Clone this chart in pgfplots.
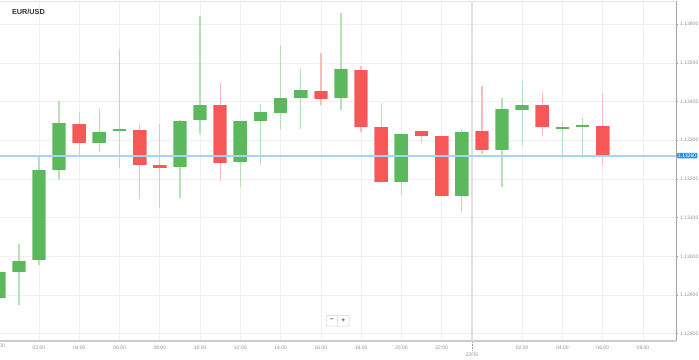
\documentclass[border=0pt]{standalone}
\usepackage{pgfplots}
\pgfplotsset{compat=1.18}
\usepackage{pgfplotstable}
\usepackage{fontspec}
\setmainfont{Liberation Sans}
\definecolor{upbody}{RGB}{92,184,92}
\definecolor{dnbody}{RGB}{246,88,88}
\definecolor{uprim}{RGB}{150,210,150}
\definecolor{dnrim}{RGB}{250,150,150}
\definecolor{upwick}{RGB}{182,224,182}
\definecolor{dnwick}{RGB}{250,188,188}
\definecolor{pricel}{RGB}{166,212,245}
\definecolor{pricebox}{RGB}{33,150,243}
\definecolor{tickgray}{RGB}{145,145,145}

% hourly candles, t = hours since 21/05 00:00
\pgfplotstableread{
t  o       h       l       c
0  1.12892 1.12965 1.12885 1.12959
1  1.12960 1.13033 1.12873 1.12989
2  1.12991 1.13261 1.12977 1.13224
3  1.13222 1.13402 1.13197 1.13344
5  1.13292 1.13383 1.13269 1.13322
6  1.13323 1.13535 1.13227 1.13330
9  1.13231 1.13352 1.13151 1.13350
10 1.13352 1.13622 1.13317 1.13391
12 1.13245 1.13350 1.13178 1.13349
13 1.13349 1.13393 1.13236 1.13372
14 1.13370 1.13547 1.13328 1.13410
15 1.13409 1.13488 1.13329 1.13431
17 1.13408 1.13630 1.13379 1.13485
20 1.13191 1.13319 1.13161 1.13316
23 1.13156 1.13328 1.13114 1.13322
25 1.13275 1.13410 1.13178 1.13381
26 1.13379 1.13452 1.13288 1.13390
28 1.13329 1.13347 1.13253 1.13335
29 1.13334 1.13357 1.13255 1.13339
}\up
\pgfplotstableread{
t  o       h       l       c
4  1.13343 1.13372 1.13260 1.13292
7  1.13327 1.13343 1.13147 1.13236
8  1.13237 1.13341 1.13126 1.13229
11 1.13391 1.13449 1.13194 1.13241
16 1.13428 1.13526 1.13392 1.13407
18 1.13482 1.13491 1.13322 1.13335
19 1.13333 1.13396 1.13190 1.13192
21 1.13324 1.13325 1.13293 1.13310
22 1.13310 1.13311 1.13155 1.13156
24 1.13323 1.13441 1.13265 1.13276
27 1.13391 1.13424 1.13312 1.13335
30 1.13337 1.13423 1.13237 1.13260
}\dn

\begin{document}
\begin{tikzpicture}
\useasboundingbox (0pt,-18pt) rectangle (699pt,341pt);
\begin{axis}[
  at={(0pt,0pt)}, anchor=south west,
  scale only axis, width=676pt, height=340pt,
  xmin=0.063, xmax=33.64, ymin=1.12781, ymax=1.1366,
  enlargelimits=false,
  axis x line*=bottom, axis y line*=right,
  x axis line style={draw=black!20, line width=2pt},
  y axis line style={draw=black!35, line width=0.9pt},
  xtick={2,4,6,8,10,12,14,16,18,20,22,26,28,30,32},
  xticklabels={02:00,04:00,06:00,08:00,10:00,12:00,14:00,16:00,18:00,20:00,22:00,02:00,04:00,06:00,08:00},
  xtick style={draw=none},
  xticklabel style={font=\fontsize{5}{6}\selectfont, text=tickgray, anchor=north, inner sep=0pt, yshift=-3pt},
  ytick={1.128,1.129,1.130,1.131,1.132,1.133,1.134,1.135,1.136},
  scaled y ticks=false,
  yticklabel style={font=\fontsize{5}{6}\selectfont, text=tickgray, anchor=west, inner sep=0pt, xshift=2pt,
    /pgf/number format/.cd, fixed, fixed zerofill, precision=5, 1000 sep={}},
  /pgf/number format/assume math mode=true,
  ytick style={draw=black!40, line width=0.5pt},
  tick align=outside, major tick length=2pt,
  grid=major, major grid style={draw=black!6, line width=0.6pt},
]
% day separator
\addplot [black!12, line width=1.5pt, forget plot] coordinates {(23.5,1.12781) (23.5,1.1366)};
% wicks
\addplot [draw=none, mark=none, forget plot, error bars/.cd, y dir=plus, y explicit, error mark=none,
  error bar style={line width=1.3pt, draw=upwick}]
  table [x=t, y=l, y error plus expr=\thisrow{h}-\thisrow{l}] {\up};
\addplot [draw=none, mark=none, forget plot, error bars/.cd, y dir=plus, y explicit, error mark=none,
  error bar style={line width=1.3pt, draw=dnwick}]
  table [x=t, y=l, y error plus expr=\thisrow{h}-\thisrow{l}] {\dn};
% bodies (light rim, then fill)
\addplot [draw=none, mark=none, forget plot, error bars/.cd, y dir=plus, y explicit, error mark=none,
  error bar style={line width=13.8pt, draw=uprim}]
  table [x=t, y=o, y error plus expr=\thisrow{c}-\thisrow{o}] {\up};
\addplot [draw=none, mark=none, forget plot, error bars/.cd, y dir=plus, y explicit, error mark=none,
  error bar style={line width=12.6pt, draw=upbody}]
  table [x=t, y=o, y error plus expr=\thisrow{c}-\thisrow{o}] {\up};
\addplot [draw=none, mark=none, forget plot, error bars/.cd, y dir=plus, y explicit, error mark=none,
  error bar style={line width=13.8pt, draw=dnrim}]
  table [x=t, y=c, y error plus expr=\thisrow{o}-\thisrow{c}] {\dn};
\addplot [draw=none, mark=none, forget plot, error bars/.cd, y dir=plus, y explicit, error mark=none,
  error bar style={line width=12.6pt, draw=dnbody}]
  table [x=t, y=c, y error plus expr=\thisrow{o}-\thisrow{c}] {\dn};
% current price line
\addplot [pricel, line width=1.6pt, forget plot] coordinates {(0.063,1.1326) (33.64,1.1326)};
\coordinate (price) at (axis cs:33.64,1.1326);
\coordinate (sep) at (axis cs:23.5,1.12781);
\coordinate (zero) at (axis cs:0,1.12781);
\end{axis}
\draw[black!10, line width=0.8pt] (0pt,340pt) -- (676pt,340pt);
\node[anchor=west, fill=pricebox, text=white, inner xsep=1.2pt, inner ysep=1pt, rounded corners=1pt,
  font=\fontsize{5}{6}\selectfont] at ([xshift=0.8pt]price) {1.13260};
\node[anchor=west, font=\bfseries\fontsize{7.3}{8}\selectfont, text=black!80] at (8.5pt,329pt) {EUR/USD};
\node[anchor=north, inner sep=0pt, font=\fontsize{5}{6}\selectfont, text=tickgray] at ([yshift=-3pt]zero) {00:00};
\draw[black!40, densely dotted, line width=0.6pt] ([yshift=-1pt]sep) -- ([yshift=-9.5pt]sep);
\node[anchor=north, inner sep=0pt, font=\fontsize{5}{6}\selectfont, text=tickgray] at ([yshift=-11.6pt]sep) {22/05};
% zoom buttons
\draw[black!18, fill=white, rounded corners=1pt, line width=0.5pt] (326pt,15pt) rectangle (349pt,25.5pt);
\draw[black!12, line width=0.5pt] (337.5pt,15pt) -- (337.5pt,25.5pt);
\node[font=\bfseries\fontsize{6.5}{7}\selectfont, text=black!70] at (331.8pt,20.3pt) {−};
\node[font=\bfseries\fontsize{6.5}{7}\selectfont, text=black!70] at (343.2pt,20.3pt) {+};
\end{tikzpicture}
\end{document}
